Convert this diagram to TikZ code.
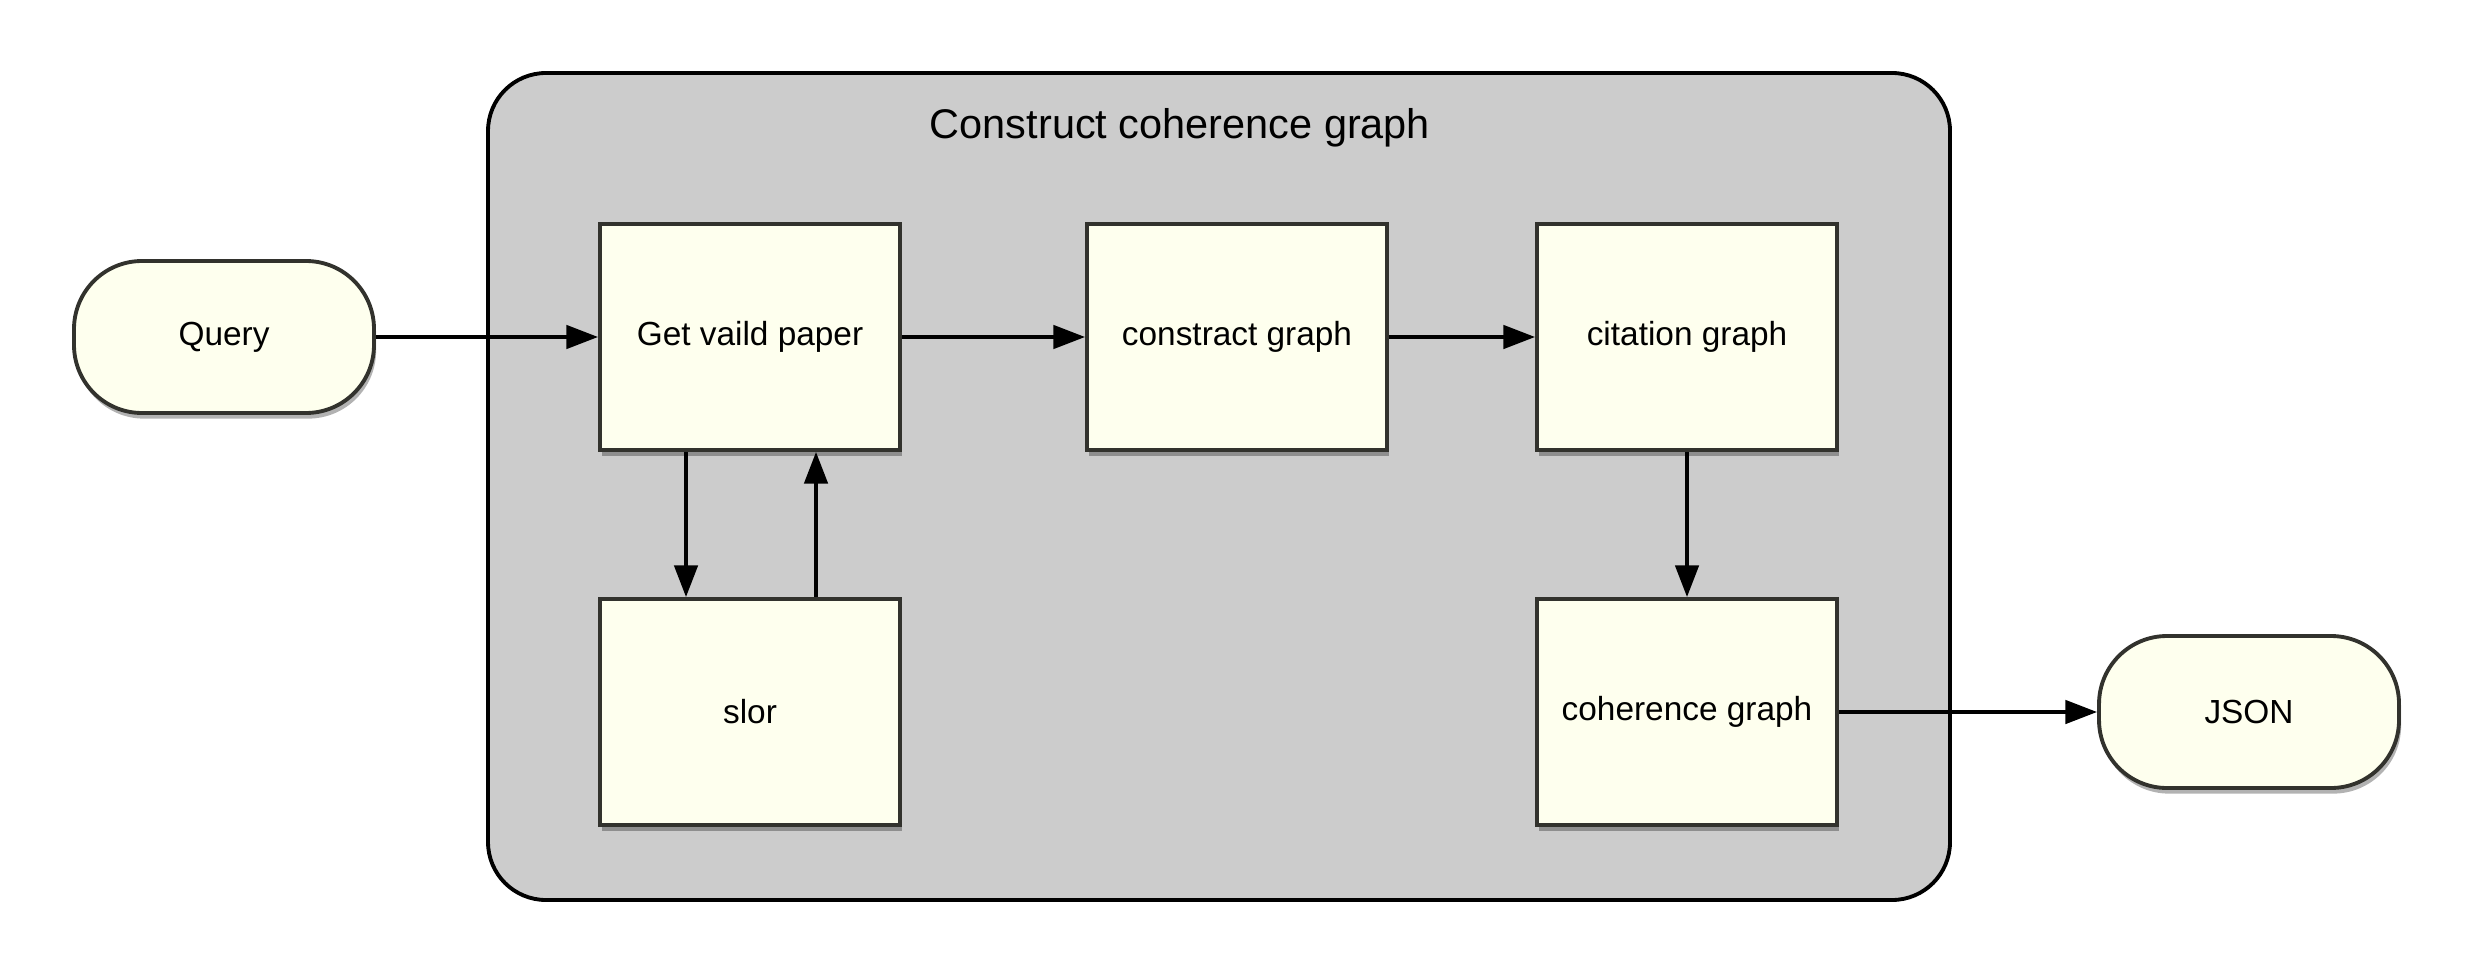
\documentclass[tikz,border=0pt]{standalone}
\usepackage{fontspec}
\setmainfont{Liberation Sans}
\usepackage{tikz}
\usetikzlibrary{shapes,arrows.meta,shadows}

\tikzset{
  stepBox/.style={draw=boxLine, fill=boxFill, line width=1.1pt, rectangle,
    minimum width=3cm, minimum height=2.26cm, inner sep=0pt,
    font=\fontsize{9.5}{11}\selectfont,
    drop shadow={shadow xshift=0.6pt, shadow yshift=-1.6pt, opacity=0.3, fill=black}},
  termBox/.style={stepBox, minimum height=1.52cm, rounded corners=0.68cm},
  flowArrow/.style={-{Triangle[length=9pt,width=6.6pt]}, line width=1.1pt, color=black}
}

\begin{document}
\begin{tikzpicture}
\definecolor{boxFill}{RGB}{254,255,238}
\definecolor{boxLine}{RGB}{50,50,45}
\definecolor{groupFill}{RGB}{204,204,204}
\useasboundingbox (0,0) rectangle (24.75,9.75);
\draw[fill=groupFill, line width=1.1pt, rounded corners=0.58cm] (4.88,0.75) rectangle (19.50,9.02);
\node (groupTitle) at (11.80,8.47) {\fontsize{11.8}{14}\selectfont Construct coherence graph};
\node[termBox] (query) at (2.24,6.38) {Query};
\node[stepBox] (getPaper) at (7.50,6.38) {Get vaild paper};
\node[stepBox] (constract) at (12.37,6.38) {constract graph};
\node[stepBox] (citation) at (16.87,6.38) {citation graph};
\node[stepBox] (slor) at (7.50,2.63) {slor};
\node[stepBox] (coherence) at (16.87,2.63) {coherence graph};
\node[termBox] (json) at (22.49,2.63) {JSON};
\draw[flowArrow] (query.east) -- (getPaper.west);
\draw[flowArrow] (getPaper.east) -- (constract.west);
\draw[flowArrow] (constract.east) -- (citation.west);
\draw[flowArrow] ([xshift=-0.64cm]getPaper.south) -- ([xshift=-0.64cm]slor.north);
\draw[flowArrow] ([xshift=0.66cm]slor.north) -- ([xshift=0.66cm]getPaper.south);
\draw[flowArrow] (citation.south) -- (coherence.north);
\draw[flowArrow] (coherence.east) -- (json.west);
\end{tikzpicture}
\end{document}
